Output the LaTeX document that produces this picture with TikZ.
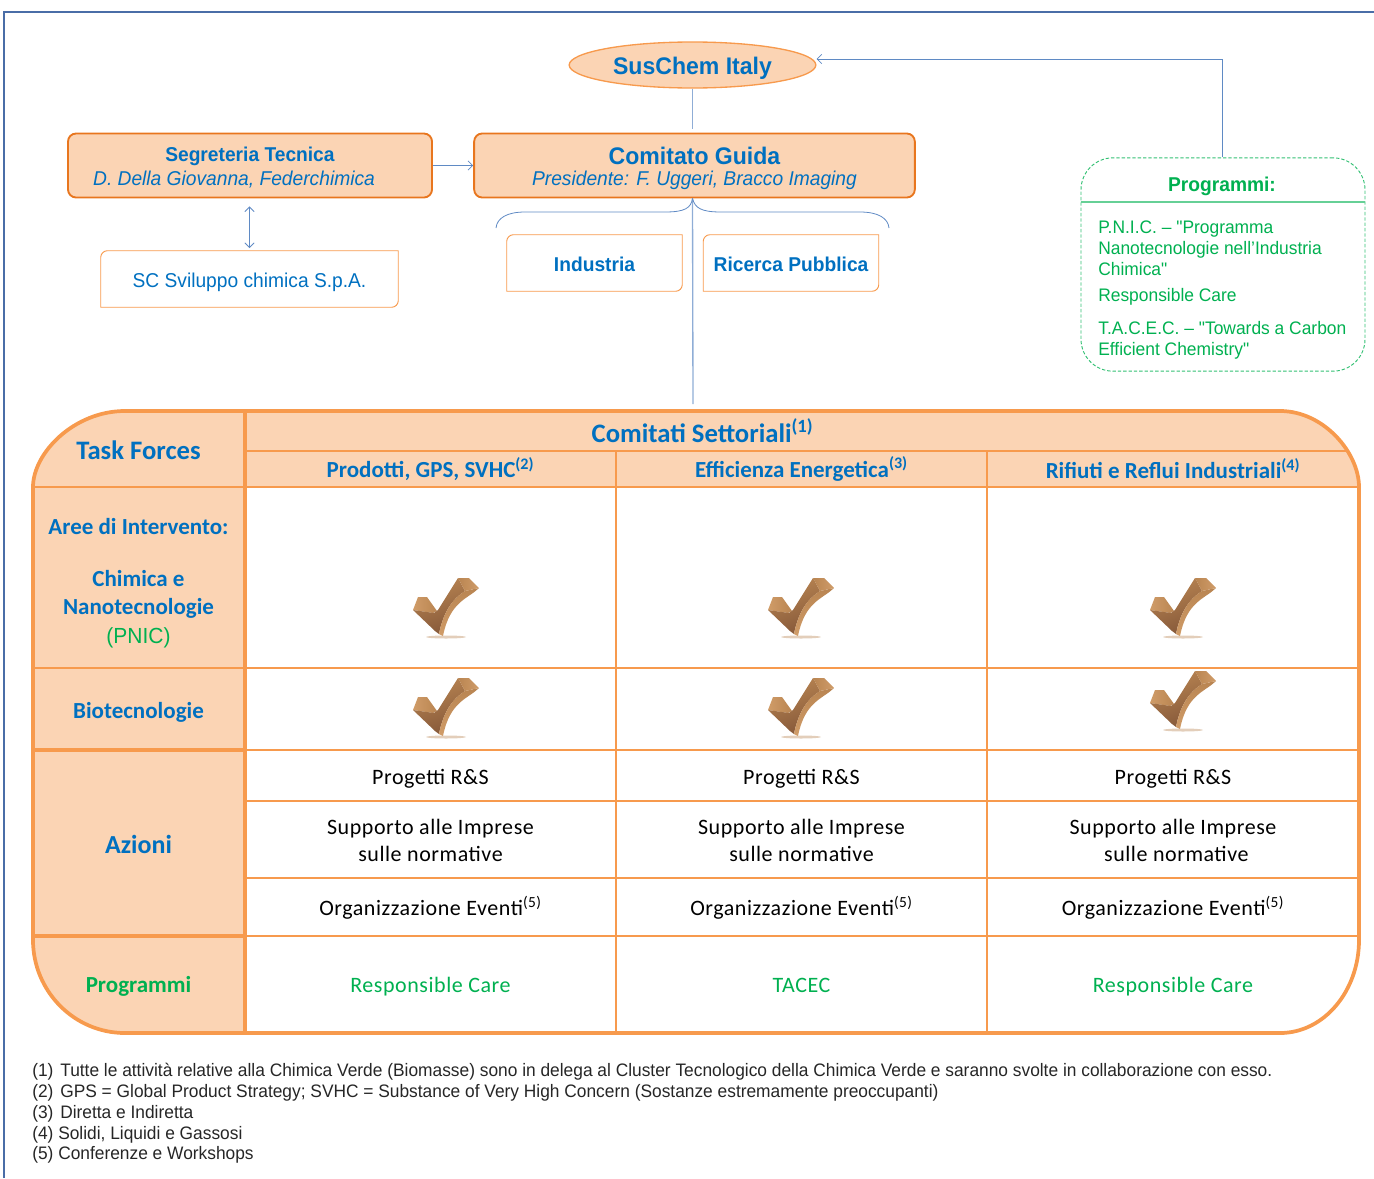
\documentclass[tikz,border=0pt]{standalone}
\usepackage{fontspec}
\setmainfont{Carlito}
\newfontfamily\arialfont[FakeStretch=0.96]{Liberation Sans}
\usetikzlibrary{arrows.meta,shapes.geometric}

\definecolor{lineor}{HTML}{F79A4D}
\definecolor{darkor}{HTML}{E8761E}
\definecolor{fillor}{HTML}{FBD4B4}
\definecolor{textbl}{HTML}{0070C0}
\definecolor{textgr}{HTML}{00B050}
\definecolor{linkbl}{HTML}{5F8AC4}
\definecolor{framebl}{HTML}{4A6DA7}
\definecolor{tanlight}{HTML}{D09C68}
\definecolor{tanmid}{HTML}{B98552}
\definecolor{tandark}{HTML}{86593A}

\newcommand{\drop}[1]{\rule{0pt}{#1pt}}

\begin{document}
\begin{tikzpicture}[x=0.75pt,y=-0.75pt,>={Straight Barb[length=3.5pt,width=7pt]},
  top node/.style={ellipse,draw=lineor,fill=fillor,line width=1pt,inner sep=0pt,minimum width=185pt,minimum height=34.5pt,text=textbl,font=\arialfont\bfseries\fontsize{18}{21}\selectfont},
  lead node/.style={rectangle,rounded corners=6pt,draw=darkor,fill=fillor,line width=1.4pt,inner sep=0pt,minimum height=48pt,text=textbl,align=center},
  plain node/.style={rectangle,inner sep=0pt,minimum height=42pt,text=textbl,font=\arialfont\fontsize{15}{18}\selectfont},
  prog node/.style={rectangle,inner sep=0pt,text=textgr,anchor=base west,align=left,font=\arialfont\fontsize{13.6}{15.75}\selectfont},
  note node/.style={inner sep=0pt,anchor=base west,text=black!85,font=\arialfont\fontsize{13.55}{15.75}\selectfont},
  side node/.style={inner sep=0pt,text=textbl,align=center,font=\bfseries\fontsize{17.25}{21}\selectfont},
  col node/.style={inner sep=0pt,text=textbl,font=\bfseries\fontsize{17.25}{21}\selectfont},
  act node/.style={inner sep=0pt,text=black,align=center,font=\addfontfeature{LetterSpace=2.5}\fontsize{16.5}{20.25}\selectfont},
  green node/.style={inner sep=0pt,text=textgr,font=\addfontfeature{LetterSpace=2.5}\fontsize{16.5}{20.25}\selectfont},
  trans/.style={draw=linkbl,line width=0.6pt},
  stem/.style={draw=linkbl!70,line width=1pt},
  tick/.pic={
    \fill[tanmid,opacity=0.4] (0,30) ellipse (20 and 1.5);
    \shade[left color=tanlight,right color=tanmid] (-28,-10) -- (-19,-10) -- (-9,4) -- (-13,6) -- (-33,3) -- cycle;
    \shade[left color=tanmid,right color=tandark,shading angle=20] (-33,3) -- (-12,6) -- (-8,3) -- (12,-29) -- (19,-16) .. controls (6,-8) and (-3,6) .. (-7,27) -- (-11,24) -- cycle;
    \shade[top color=tanmid,bottom color=tanlight] (19,-16) -- (33,-19) .. controls (22,-8) and (4,-6) .. (-3,29) -- (-7,27) .. controls (-3,6) and (6,-8) .. (19,-16) -- cycle;
    \shade[left color=tanmid,right color=tanlight] (12,-29) -- (23,-29) -- (33,-19) -- (19,-16) -- cycle;
  }]
  \useasboundingbox (0,0) rectangle (1374,1178);

  % frame
  \draw[framebl,line width=0.8pt] (4,1178) -- (4,12) -- (1374,12);

  % table
  \begin{scope}
    \clip (125,411) -- (1280,411) .. controls (1324,411) and (1359,453) .. (1359,487) -- (1359,940) .. controls (1359,991) and (1324,1033) .. (1280,1033) -- (125,1033) .. controls (74,1033) and (33,991) .. (33,940) -- (33,487) .. controls (33,453) and (74,411) .. (125,411) -- cycle;
    \fill[fillor] (0,405) rectangle (245,1040);
    \fill[fillor] (245,405) rectangle (1365,487);
  \end{scope}
  \draw[lineor,line width=1.4pt] (245,451) -- (1347,451);
  \draw[lineor,line width=1.6pt] (33,487) -- (1359,487);
  \draw[lineor,line width=1.6pt] (33,668) -- (245,668);
  \draw[lineor,line width=1pt] (245,668) -- (1359,668);
  \draw[lineor,line width=3pt] (33,750) -- (245,750);
  \draw[lineor,line width=1.2pt] (245,750) -- (1359,750);
  \draw[lineor,line width=1.4pt] (245,801) -- (1359,801);
  \draw[lineor,line width=1.4pt] (245,878) -- (1359,878);
  \draw[lineor,line width=3pt] (33,936) -- (245,936);
  \draw[lineor,line width=1.4pt] (245,936) -- (1359,936);
  \draw[lineor,line width=1.2pt] (616,451) -- (616,1033);
  \draw[lineor,line width=1.2pt] (987,451) -- (987,1033);
  \draw[lineor,line width=3pt] (245,411) -- (245,1033);
  \draw[lineor,line width=2.8pt] (125,411) -- (1280,411) .. controls (1324,411) and (1359,453) .. (1359,487) -- (1359,940) .. controls (1359,991) and (1324,1033) .. (1280,1033) -- (125,1033) .. controls (74,1033) and (33,991) .. (33,940) -- (33,487) .. controls (33,453) and (74,411) .. (125,411) -- cycle;

  % upper part
  \node[top node]   (suschem) at (692.5,65) {\drop{17.5}SusChem Italy};
  \node[lead node,minimum width=273pt] (segr) at (250,165.5) {\drop{14}\arialfont\fontsize{15}{17.25}\selectfont\textbf{Segreteria Tecnica}\\[2.5pt]\arialfont\itshape\fontsize{15}{17.25}\selectfont D. Della Giovanna, Federchimica\hspace*{24pt}};
  \node[lead node,minimum width=330.5pt] (guida) at (694.5,165.5) {\drop{17}\arialfont\bfseries\fontsize{18}{20}\selectfont Comitato Guida\\[4pt]\arialfont\itshape\fontsize{15}{17.25}\selectfont Presidente: F. Uggeri, Bracco Imaging};
  \node[plain node,minimum width=222.75pt] (sc) at (249.5,279) {\drop{15.5}SC Sviluppo chimica S.p.A.};
  \node[plain node,minimum width=131.25pt,font=\arialfont\bfseries\fontsize{15}{18}\selectfont] (ind) at (594.5,263) {\drop{12.5}Industria};
  \node[plain node,minimum width=131.25pt,font=\arialfont\bfseries\fontsize{15}{18}\selectfont] (ric) at (791,263) {\drop{12.5}Ricerca Pubblica};
  \draw[lineor,line width=0.7pt] (sc.north east) -- ([yshift=5pt]sc.south east) arc[start angle=0,end angle=-90,radius=5pt] -- (sc.south west) -- ([yshift=-5pt]sc.north west) arc[start angle=180,end angle=90,radius=5pt] -- cycle;
  \draw[lineor,line width=0.7pt] (ind.north east) -- ([yshift=5pt]ind.south east) arc[start angle=0,end angle=-90,radius=5pt] -- (ind.south west) -- ([yshift=-5pt]ind.north west) arc[start angle=180,end angle=90,radius=5pt] -- cycle;
  \draw[lineor,line width=0.7pt] (ric.north east) -- ([yshift=5pt]ric.south east) arc[start angle=0,end angle=-90,radius=5pt] -- (ric.south west) -- ([yshift=-5pt]ric.north west) arc[start angle=180,end angle=90,radius=5pt] -- cycle;

  % programmes box
  \node[rectangle,rounded corners=24pt,draw=textgr!80,dash pattern=on 2.5pt off 1.5pt,line width=0.7pt,inner sep=0pt,minimum width=213pt,minimum height=160pt] (progbox) at (1223,264.5) {};
  \node[inner sep=0pt,text=textgr,font=\arialfont\bfseries\fontsize{15}{18}\selectfont] (progtitle) at (1222,186) {Programmi:};
  \draw[textgr!60,line width=1pt] (progbox.west |- 0,202) -- (progbox.east |- 0,202);
  \node[prog node] (pnic) at (1098,275) {P.N.I.C. – "Programma\\Nanotecnologie nell’Industria\\Chimica"};
  \node[prog node] (rc) at (1098,301) {Responsible Care};
  \node[prog node] (tacec) at (1098,355) {T.A.C.E.C. – "Towards a Carbon\\Efficient Chemistry"};

  % links
  \coordinate (indend) at (496,228);
  \coordinate (ricend) at (889,228);
  \coordinate (settop) at (693,404);
  \path (segr.east) edge[trans,->] (guida.west);
  \path ([yshift=-6pt]segr.south -| sc.north) edge[trans,<->] ([yshift=2pt]sc.north);
  \draw[trans,->] ([xshift=-0.75pt]progbox.north) |- ([yshift=4.5pt]suschem.east);
  \draw[stem] (suschem.south) -- ([yshift=2.5pt]suschem.south |- guida.north);
  \draw[stem] (suschem.south |- guida.south) -- (settop);
  \draw[trans] (suschem.south |- guida.south) .. controls (691,208) and (685,212) .. (665,212) -- (525,212) .. controls (507,212) and (497,218) .. (indend);
  \draw[trans] (suschem.south |- guida.south) .. controls (695,208) and (701,212) .. (721,212) -- (860,212) .. controls (878,212) and (888,218) .. (ricend);

  % table texts
  \node[side node,font=\bfseries\fontsize{20}{23}\selectfont] (task) at (138.5,450) {Task Forces};
  \node[col node,font=\bfseries\fontsize{20}{23}\selectfont] (comit) at (702.5,431) {Comitati Settoriali\textsuperscript{(1)}};
  \node[col node] (prod) at (430.5,469) {Prodotti, GPS, SVHC\textsuperscript{(2)}};
  \node[col node] (eff) at (801.5,469) {Efficienza Energetica\textsuperscript{(3)}};
  \node[col node] (rif) at (1173,468.5) {Rifiuti e Reflui Industriali\textsuperscript{(4)}};
  \node[side node] (aree) at (138.5,527) {Aree di Intervento:};
  \node[side node] (chim) at (138.5,594) {Chimica e\\Nanotecnologie};
  \node[inner sep=0pt,text=textgr,font=\arialfont\fontsize{16.4}{18}\selectfont] (pnicl) at (138.5,638) {(PNIC)};
  \node[side node] (bio) at (138.5,712) {Biotecnologie};
  \node[side node,font=\bfseries\fontsize{19.5}{23}\selectfont] (azioni) at (138.5,844) {Azioni};
  \node[side node,text=textgr] (progl) at (138.5,986) {Programmi};

  \pic at (446,607) {tick};
  \pic at (801,607) {tick};
  \pic at (1183,607) {tick};
  \pic at (446,707) {tick};
  \pic at (801,707) {tick};
  \pic at (1183,700) {tick};

  \node[act node] (ps1) at (430.5,779) {Progetti R\&S};
  \node[act node] (ps2) at (801.5,779) {Progetti R\&S};
  \node[act node] (ps3) at (1173,779) {Progetti R\&S};
  \node[act node] (si1) at (430.5,840.5) {Supporto alle Imprese\\sulle normative};
  \node[act node] (si2) at (801.5,840.5) {Supporto alle Imprese\\sulle normative};
  \node[act node] (si3) at (1173,840.5) {Supporto alle Imprese\\\hspace*{5pt}sulle normative};
  \node[act node] (oe1) at (430.5,908) {Organizzazione Eventi\textsuperscript{(5)}};
  \node[act node] (oe2) at (801.5,908) {Organizzazione Eventi\textsuperscript{(5)}};
  \node[act node] (oe3) at (1173,908) {Organizzazione Eventi\textsuperscript{(5)}};
  \node[green node] (rc1) at (430.5,987) {Responsible Care};
  \node[green node] (tc2) at (801.5,985) {TACEC};
  \node[green node] (rc3) at (1173,987) {Responsible Care};

  % notes
  \node[note node] (n1) at (32,1076) {(1)\hspace{1.5pt} Tutte le attività relative alla Chimica Verde (Biomasse) sono in delega al Cluster Tecnologico della Chimica Verde e saranno svolte in collaborazione con esso.};
  \node[note node] (n2) at (32,1097) {(2)\hspace{1.5pt} GPS = Global Product Strategy; SVHC = Substance of Very High Concern (Sostanze estremamente preoccupanti)};
  \node[note node] (n3) at (32,1118) {(3)\hspace{1.5pt} Diretta e Indiretta};
  \node[note node] (n4) at (32,1139) {(4) Solidi, Liquidi e Gassosi};
  \node[note node] (n5) at (32,1159.5) {(5) Conferenze e Workshops};
\end{tikzpicture}
\end{document}
